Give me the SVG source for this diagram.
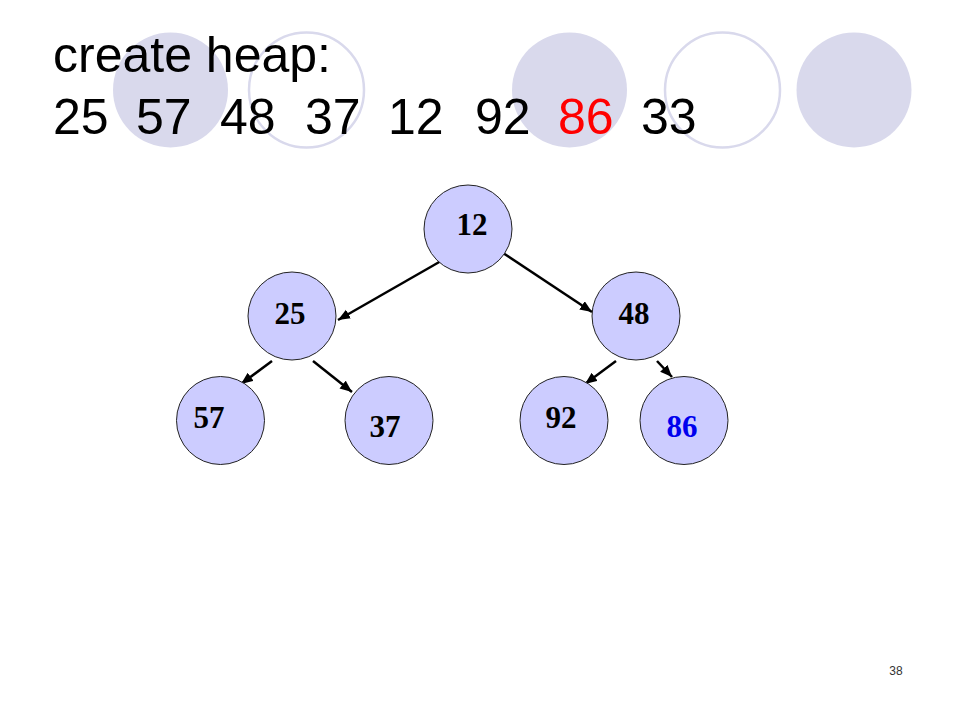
<svg xmlns="http://www.w3.org/2000/svg" width="960" height="720" viewBox="0 0 960 720">
<style>
.deco{fill:#d9d9ec;stroke:none}
.decoO{fill:none;stroke:#d9d9ec;stroke-width:2.5}
.title{font-family:"Liberation Sans",Arial,sans-serif;font-size:50px;fill:#000}
.node{fill:#ccccff;stroke:#222;stroke-width:1}
.lbl{font-family:"Liberation Serif","Times New Roman",serif;font-weight:bold;font-size:31px;fill:#000;text-anchor:middle}
.edge{stroke:#000;stroke-width:2.5;fill:none;marker-end:url(#ah)}
.pg{font-family:"Liberation Sans",Arial,sans-serif;font-size:12px;fill:#333;text-anchor:middle}
</style>
<defs>
<marker id="ah" markerUnits="userSpaceOnUse" markerWidth="13" markerHeight="11" refX="12" refY="5" orient="auto">
<path d="M0,0 L12,5 L0,10 z" fill="#000"/>
</marker>
</defs>
<rect width="960" height="720" fill="#fff"/>
<g id="decor">
<circle class="deco" cx="170.5" cy="90" r="57.5"/>
<circle class="decoO" cx="306.5" cy="90" r="57.5"/>
<circle class="deco" cx="569.5" cy="90" r="57.5"/>
<circle class="decoO" cx="722.5" cy="90" r="57.5"/>
<circle class="deco" cx="854" cy="90" r="57.5"/>
</g>
<g id="title">
<text class="title" x="53" y="72">create heap:</text>
<text class="title" y="134"><tspan x="53">25</tspan><tspan x="136">57</tspan><tspan x="220">48</tspan><tspan x="305">37</tspan><tspan x="388">12</tspan><tspan x="475">92</tspan><tspan x="558" fill="#ff0000">86</tspan><tspan x="641">33</tspan></text>
</g>
<g id="connectors">
<line class="edge" x1="448" y1="257" x2="338" y2="320"/>
<line class="edge" x1="497" y1="249" x2="592" y2="312"/>
<line class="edge" x1="272" y1="361" x2="241" y2="384"/>
<line class="edge" x1="313" y1="361" x2="352" y2="392"/>
<line class="edge" x1="616" y1="361" x2="585" y2="384"/>
<line class="edge" x1="657" y1="361" x2="672" y2="377"/>
</g>
<g id="n12"><circle class="node" cx="468" cy="229" r="44"/><text class="lbl" x="472" y="235">12</text></g>
<g id="n25"><circle class="node" cx="292" cy="316" r="44"/><text class="lbl" x="290" y="324">25</text></g>
<g id="n48"><circle class="node" cx="636" cy="316" r="44"/><text class="lbl" x="634" y="324">48</text></g>
<g id="n57"><circle class="node" cx="220.5" cy="420.5" r="44"/><text class="lbl" x="209" y="428">57</text></g>
<g id="n37"><circle class="node" cx="389" cy="420.5" r="44"/><text class="lbl" x="385" y="437">37</text></g>
<g id="n92"><circle class="node" cx="564" cy="420.5" r="44"/><text class="lbl" x="561" y="428">92</text></g>
<g id="n86"><circle class="node" cx="684" cy="420.5" r="44"/><text class="lbl" x="682" y="437" style="fill:#0000ee">86</text></g>
<text class="pg" x="896" y="675">38</text>
</svg>
